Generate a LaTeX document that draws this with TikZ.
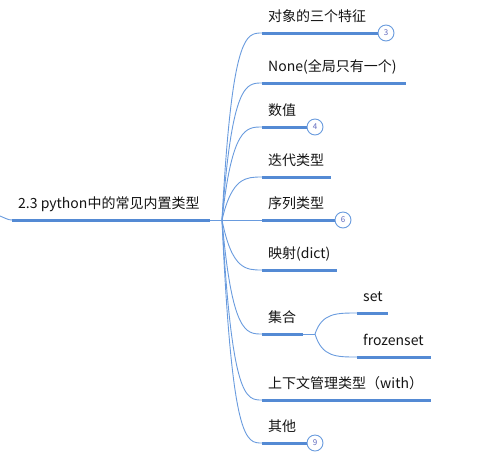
\documentclass[tikz,border=0pt]{standalone}
\usepackage{fontspec}
\setmainfont{Noto Sans CJK SC}
\definecolor{lineblue}{RGB}{84,138,212}
\definecolor{thinblue}{RGB}{105,155,222}
\definecolor{txt}{RGB}{20,20,20}
\definecolor{badgeblue}{RGB}{95,105,190}
\tikzset{
  lbl/.style={anchor=base west, inner sep=0pt, font=\fontsize{14}{16}\selectfont, text=txt},
  ul/.style={draw=lineblue, line width=3pt},
  conn/.style={draw=thinblue, line width=0.9pt},
  badge/.style={circle, draw=thinblue, line width=0.9pt, fill=white, minimum size=16pt, inner sep=0pt, font=\fontsize{8}{9}\selectfont, text=badgeblue},
}
\begin{document}
\begin{tikzpicture}[x=1pt,y=-1pt]
\useasboundingbox (0,0) rectangle (500,456);
% root
\coordinate (in) at (0,216);
\coordinate (rs) at (12,220);
\coordinate (re) at (210,220);
\coordinate (B) at (222,220);
\node[lbl] (root) at (18,208) {2.3 python中的常见内置类型};
\draw[conn] (in) .. controls (5,218) and (8,220) .. (rs);
\draw[ul] (rs) -- (re);
\draw[conn] (re) -- (B);
% children
\coordinate (s1) at (262,33);
\node[lbl] (t1) at (268,21) {对象的三个特征};
\node[badge] (b1) at (386,33) {3};
\draw[conn] (B) .. controls (232,33) and (246,33) .. (s1);
\draw[ul] (s1) -- (b1.west);

\coordinate (s2) at (262,83);
\coordinate (e2) at (406,83);
\node[lbl] (t2) at (268,71) {None(全局只有一个)};
\draw[conn] (B) .. controls (232,83) and (246,83) .. (s2);
\draw[ul] (s2) -- (e2);

\coordinate (s3) at (262,127);
\node[lbl] (t3) at (268,115) {数值};
\node[badge] (b3) at (315,127) {4};
\draw[conn] (B) .. controls (232,127) and (246,127) .. (s3);
\draw[ul] (s3) -- (b3.west);

\coordinate (s4) at (262,177);
\coordinate (e4) at (331,177);
\node[lbl] (t4) at (268,165) {迭代类型};
\draw[conn] (B) .. controls (232,177) and (246,177) .. (s4);
\draw[ul] (s4) -- (e4);

\coordinate (s5) at (262,220);
\node[lbl] (t5) at (268,208) {序列类型};
\node[badge] (b5) at (343,220) {6};
\draw[conn] (B) -- (s5);
\draw[ul] (s5) -- (b5.west);

\coordinate (s6) at (262,270);
\coordinate (e6) at (337,270);
\node[lbl] (t6) at (268,258) {映射(dict)};
\draw[conn] (B) .. controls (232,270) and (246,270) .. (s6);
\draw[ul] (s6) -- (e6);

\coordinate (s7) at (262,334);
\coordinate (e7) at (303,334);
\coordinate (C) at (315,334);
\node[lbl] (t7) at (268,322) {集合};
\draw[conn] (B) .. controls (232,334) and (246,334) .. (s7);
\draw[ul] (s7) -- (e7);
\draw[conn] (e7) -- (C);

\coordinate (s71) at (357,313);
\coordinate (e71) at (388,313);
\node[lbl] (t71) at (363,301) {set};
\draw[conn] (C) .. controls (322,313) and (336,313) .. (s71);
\draw[ul] (s71) -- (e71);

\coordinate (s72) at (357,357);
\coordinate (e72) at (431,357);
\node[lbl] (t72) at (363,345) {frozenset};
\draw[conn] (C) .. controls (322,357) and (336,357) .. (s72);
\draw[ul] (s72) -- (e72);

\coordinate (s8) at (262,400);
\coordinate (e8) at (431,400);
\node[lbl] (t8) at (268,388) {上下文管理类型（with）};
\draw[conn] (B) .. controls (232,400) and (246,400) .. (s8);
\draw[ul] (s8) -- (e8);

\coordinate (s9) at (262,443);
\node[lbl] (t9) at (268,431) {其他};
\node[badge] (b9) at (315,443) {9};
\draw[conn] (B) .. controls (232,443) and (246,443) .. (s9);
\draw[ul] (s9) -- (b9.west);
\end{tikzpicture}
\end{document}
